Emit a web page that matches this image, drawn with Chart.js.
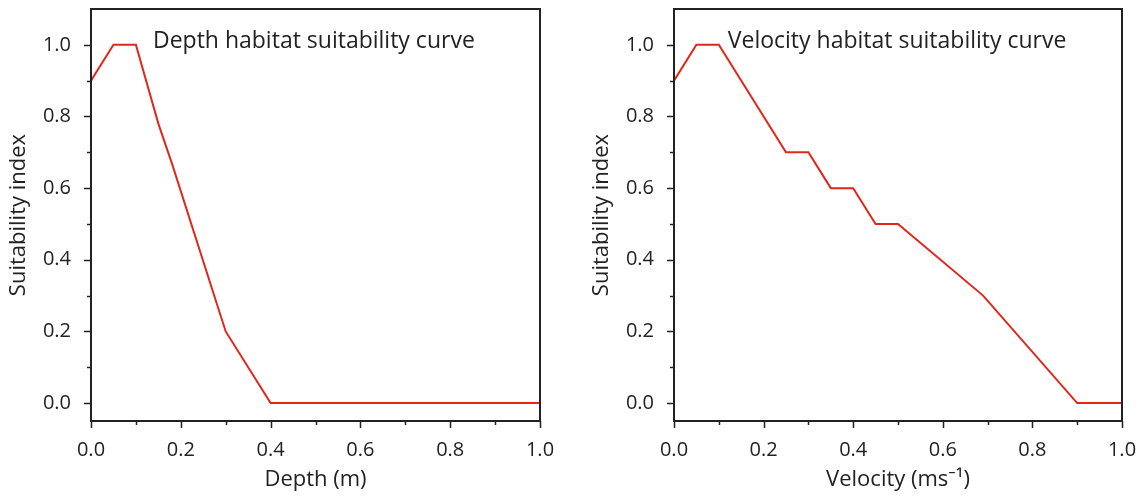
<!DOCTYPE html>
<html lang="en">
<head>
    <meta charset="UTF-8">
    <title>Habitat suitability curves</title>
    <script src="https://cdn.jsdelivr.net/npm/chart.js"></script>
    <style>
        body { margin: 0; background: #fff; }
        .wrap { position: absolute; top: 0; height: 498px; }
        #leftWrap { left: 0; width: 570px; }
        #rightWrap { left: 570px; width: 571px; }
    </style>
</head>
<body>
    <div class="wrap" id="leftWrap"><canvas id="depthChart"></canvas></div>
    <div class="wrap" id="rightWrap"><canvas id="velocityChart"></canvas></div>
    <script>
        // depth curve
        const depthX = [0, 0.05, 0.1, 0.15, 0.18, 0.3, 0.4, 1.0];
        const depthY = [0.9, 1.0, 1.0, 0.78, 0.67, 0.2, 0.0, 0.0];

        // velocity curve
        const velX = [0, 0.05, 0.1, 0.25, 0.3, 0.35, 0.4, 0.45, 0.5, 0.69, 0.9, 1.0];
        const velY = [0.9, 1.0, 1.0, 0.7, 0.7, 0.6, 0.6, 0.5, 0.5, 0.3, 0.0, 0.0];

        const xTicks = [0, 0.1, 0.2, 0.3, 0.4, 0.5, 0.6, 0.7, 0.8, 0.9, 1.0];
        const yTicks = [0, 0.1, 0.2, 0.3, 0.4, 0.5, 0.6, 0.7, 0.8, 0.9, 1.0];

        const ink = '#222';
        const red = '#e2261c';
        const font = "'Open Sans', 'Noto Sans', sans-serif";

        const isMajor = v => Math.round(v * 10) % 2 === 0;

        // frame, tick marks and the caption inside the plot
        const framePlugin = {
            id: 'frame',
            afterDraw(chart, args, opts) {
                const { ctx, chartArea: a, scales: { x, y } } = chart;
                ctx.save();
                ctx.strokeStyle = ink;
                ctx.lineWidth = 2;
                ctx.strokeRect(a.left, a.top, a.right - a.left, a.bottom - a.top);
                ctx.lineWidth = 1.5;
                ctx.beginPath();
                xTicks.forEach(v => {
                    const px = Math.round(x.getPixelForValue(v)) + 0.5;
                    ctx.moveTo(px, a.bottom);
                    ctx.lineTo(px, a.bottom + (isMajor(v) ? 7 : 4));
                });
                yTicks.forEach(v => {
                    const py = Math.round(y.getPixelForValue(v)) + 0.5;
                    ctx.moveTo(a.left, py);
                    ctx.lineTo(a.left - (isMajor(v) ? 7 : 4), py);
                });
                ctx.stroke();
                ctx.fillStyle = ink;
                ctx.font = '23px ' + font;
                ctx.textBaseline = 'middle';
                ctx.fillText(opts.text, x.getPixelForValue(opts.x), y.getPixelForValue(1.0) - 3);
                ctx.restore();
            }
        };

        function makeChart(id, xs, ys, caption, captionX, xTitle, padLeft, padRight) {
            return new Chart(document.getElementById(id), {
                type: 'line',
                data: {
                    datasets: [{
                        data: xs.map((v, i) => ({ x: v, y: ys[i] })),
                        borderColor: red,
                        borderWidth: 2,
                        pointRadius: 0,
                        tension: 0,
                        fill: false
                    }]
                },
                options: {
                    responsive: true,
                    maintainAspectRatio: false,
                    animation: false,
                    layout: { padding: { left: padLeft, right: padRight, top: 9, bottom: 0 } },
                    plugins: {
                        legend: { display: false },
                        tooltip: { enabled: false },
                        frame: { text: caption, x: captionX }
                    },
                    scales: {
                        x: {
                            type: 'linear',
                            min: 0,
                            max: 1,
                            grid: { display: false },
                            border: { display: false },
                            afterBuildTicks: s => { s.ticks = xTicks.map(v => ({ value: v })); },
                            afterFit: s => { s.height = 77; s.paddingLeft = 0; s.paddingRight = 0; },
                            ticks: {
                                autoSkip: false,
                                maxRotation: 0,
                                padding: 9,
                                color: ink,
                                font: { family: font, size: 20 },
                                callback: v => isMajor(v) ? v.toFixed(1) : ''
                            },
                            title: {
                                display: true,
                                text: xTitle,
                                color: ink,
                                font: { family: font, size: 22 },
                                padding: { top: 0, bottom: 5 }
                            }
                        },
                        y: {
                            type: 'linear',
                            min: -0.05,
                            max: 1.1,
                            grid: { display: false },
                            border: { display: false },
                            afterBuildTicks: s => { s.ticks = yTicks.map(v => ({ value: v })); },
                            afterFit: s => { s.width = 91; s.paddingTop = 0; s.paddingBottom = 0; },
                            ticks: {
                                autoSkip: false,
                                padding: 12,
                                color: ink,
                                font: { family: font, size: 20 },
                                callback: v => isMajor(v) ? v.toFixed(1) : ''
                            },
                            title: {
                                display: true,
                                text: 'Suitability index',
                                color: ink,
                                font: { family: font, size: 22 },
                                padding: { top: 6, bottom: 0 }
                            }
                        }
                    }
                },
                plugins: [framePlugin]
            });
        }

        makeChart('depthChart', depthX, depthY, 'Depth habitat suitability curve', 0.138, 'Depth (m)', 0, 30);
        makeChart('velocityChart', velX, velY, 'Velocity habitat suitability curve', 0.12, 'Velocity (ms\u207B\u00B9)', 13, 19);
    </script>
</body>
</html>
